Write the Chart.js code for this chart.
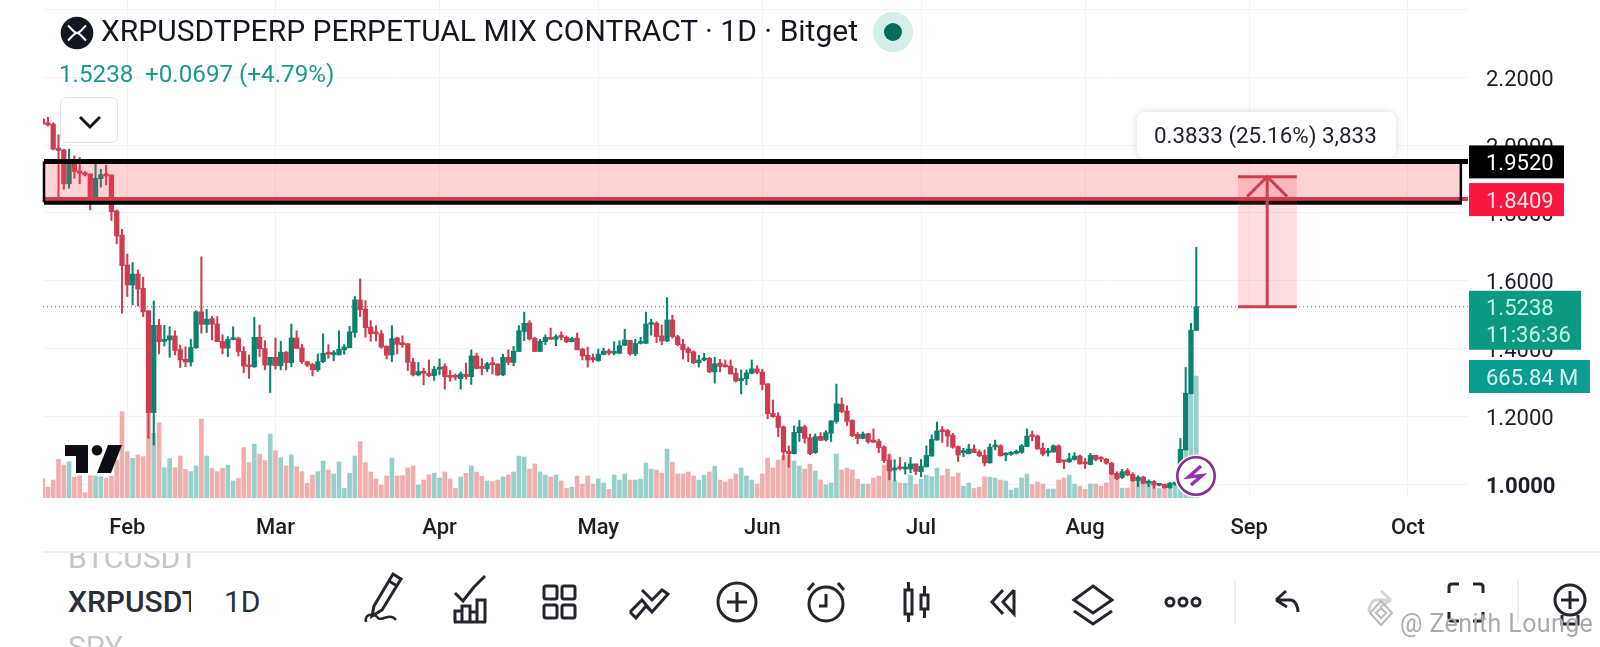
<!DOCTYPE html>
<html>
<head>
<meta charset="utf-8">
<title>XRPUSDTPERP</title>
<script src="https://cdn.jsdelivr.net/npm/chart.js@4/dist/chart.umd.min.js"></script>
<style>
  html, body { margin: 0; padding: 0; background: #fff; width: 1600px; height: 647px; overflow: hidden; font-family: Roboto, sans-serif; }
  #chart { position: absolute; left: 0; top: 0; }
  .abs { position: absolute; white-space: nowrap; }
  #title { left: 101px; top: 13px; font-size: 30px; line-height: 36px; color: #131722; }
  .quote { top: 59px; font-size: 24.2px; line-height: 30px; color: #1a9a8c; }
  #menuBtn { left: 60px; top: 97px; width: 58px; height: 46px; border: 1px solid #e3e5e8; border-radius: 6px; background: #fff; box-sizing: border-box; }
  #axisLine { left: 43px; right: 0; top: 551px; height: 2px; background: #eeeff1; }
  .wheel { left: 68px; width: 123px; overflow: hidden; font-size: 30px; line-height: 34px; height: 34px; }
  #toolbar { left: 0; top: 0; }
</style>
</head>
<body>
<canvas id="chart" width="1600" height="552"></canvas>

<svg class="abs" style="left:60px;top:16px" width="34" height="34" viewBox="0 0 34 34">
  <circle cx="17" cy="17" r="16.3" fill="#131722"/>
  <path d="M8 9.5 C13 14 14 17 17 17 C20 17 21 14 26 9.5 M8 24.5 C13 20 14 17 17 17 C20 17 21 20 26 24.5" stroke="#fff" stroke-width="2" fill="none"/>
</svg>
<div id="title" class="abs">XRPUSDTPERP PERPETUAL MIX CONTRACT · 1D · Bitget</div>
<svg class="abs" style="left:873px;top:12px" width="40" height="40" viewBox="0 0 40 40">
  <circle cx="20" cy="20" r="20" fill="#d3efea"/>
  <circle cx="20" cy="20" r="9" fill="#086b5b"/>
</svg>
<div class="abs quote" style="left:59px">1.5238</div>
<div class="abs quote" style="left:145px">+0.0697 (+4.79%)</div>
<div id="menuBtn" class="abs"></div>
<svg class="abs" style="left:78px;top:113px" width="24" height="18" viewBox="0 0 24 18">
  <path d="M2 4 L12 14 L22 4" stroke="#131722" stroke-width="3" fill="none"/>
</svg>

<!-- tv logo -->
<svg class="abs" style="left:65px;top:445px" width="58" height="28" viewBox="0 0 58 28">
  <path d="M0 0 H23 V28 H11 V11 H0 Z M43 0 H57 L46 28 H32 Z" fill="#0c0e13"/>
  <circle cx="32" cy="5.3" r="5.3" fill="#0c0e13"/>
</svg>

<!-- lightning badge -->
<svg class="abs" style="left:1173px;top:453px" width="46" height="46" viewBox="0 0 46 46">
  <circle cx="23" cy="23" r="21.5" fill="#fff"/>
  <circle cx="23" cy="23" r="18.7" fill="#fff" stroke="#84308f" stroke-width="2.6"/>
  <path d="M28 13 L15.5 24 L29 22.5 L18 32" stroke="#9a2fb0" stroke-width="3.4" fill="none"/>
</svg>

<div id="axisLine" class="abs"></div>

<div class="abs wheel" style="top:541px;color:#c4c6ca;clip-path:inset(12px 0 0 0)">BTCUSDT</div>
<div class="abs wheel" style="top:585px;color:#2a2e39;font-weight:500">XRPUSDT</div>
<div class="abs wheel" style="top:630px;color:#c4c6ca">SPY</div>
<div class="abs" style="left:224px;top:585px;font-size:30px;line-height:34px;color:#2a2e39">1D</div>

<svg id="toolbar" class="abs" width="1600" height="647" viewBox="0 0 1600 647" fill="none" stroke="#23262d" stroke-width="3">
  <!-- pencil -->
  <path d="M374 606 L393 574 L401 579 L382 610 L372 616 Z M389 581 L397 586"/>
  <path d="M366 622 C364 612 376 614 378 618 C381 622 390 612 396 620" stroke-width="2.5"/>
  <!-- indicators -->
  <path d="M455 593 L463 601 L474 587 M474 587 L485 576" />
  <path d="M455 622 V611 H462 V622 M462 622 V606 H470 V622 M470 622 V612 H477 V622 M477 622 V600 H485 V622 M454 622 H486"/>
  <!-- templates -->
  <rect x="544" y="586" width="13" height="13" rx="2"/><rect x="562" y="586" width="13" height="13" rx="2"/>
  <rect x="544" y="605" width="13" height="13" rx="2"/><rect x="562" y="605" width="13" height="13" rx="2"/>
  <!-- drawings fav -->
  <path d="M630 612 L642 600 L652 612 L668 594 M630 612 L636 618 L646 606 L652 612 M652 612 L668 594 L662 590 L652 600 L642 590"/>
  <!-- plus -->
  <circle cx="737" cy="602" r="19"/><path d="M737 592 V612 M727 602 H747"/>
  <!-- alarm -->
  <circle cx="826" cy="604" r="17"/><path d="M826 594 V606 H819 M808 590 L814 583 M844 590 L838 583"/>
  <!-- candles -->
  <rect x="905" y="590" width="7" height="24"/><path d="M908.5 582 V590 M908.5 614 V622"/>
  <rect x="921" y="595" width="7" height="14"/><path d="M924.5 586 V595 M924.5 609 V618"/>
  <!-- replay -->
  <path d="M1003 590 L992 602 L1003 614 M1014 590 L1003 602 L1014 614 V590"/>
  <!-- layers -->
  <path d="M1093 586 L1112 600 L1093 613 L1074 600 Z M1074 611 L1093 624 L1112 611"/>
  <!-- more -->
  <circle cx="1170" cy="602" r="4"/><circle cx="1183" cy="602" r="4"/><circle cx="1196" cy="602" r="4"/>
  <path d="M1235 580 V623 M1518 580 V623" stroke="#e8e9eb" stroke-width="1.5"/>
  <!-- undo -->
  <path d="M1276 600 L1286 591 M1276 600 L1287 607 M1276 600 H1290 C1296 600 1298 608 1298 612"/>
  <!-- redo -->
  <path d="M1391 600 L1381 591 M1391 600 L1380 607 M1391 600 H1377 C1371 600 1369 608 1369 612" stroke="#d4d5d8"/>
  <!-- fullscreen -->
  <path d="M1449 593 V587 Q1449 584 1452 584 H1459 M1473 584 H1480 Q1483 584 1483 587 V593 M1483 612 V618 Q1483 621 1480 621 H1473 M1459 621 H1452 Q1449 621 1449 618 V612"/>
  <!-- zoom plus -->
  <circle cx="1570" cy="600" r="15"/><path d="M1570 591 V609 M1561 600 H1579 M1562 615 V624 H1578 V615"/>
  <!-- watermark logo -->
  <path d="M1381 601 L1392 613 L1381 625 L1370 613 Z M1381 608 L1386 613 L1381 618 L1376 613 Z" stroke="#b9bbbf" stroke-width="2"/>
</svg>
<div class="abs" style="left:1400px;top:609px;font-size:25px;line-height:30px;color:#a9abb0;letter-spacing:.4px">@ Zenith Lounge</div>

<script>
// candles, Jan 16 to Aug 22, one per day
var opens = [2.076,2.066,2.062,1.991,1.986,1.886,1.946,1.924,1.919,1.915,1.833,1.901,1.915,1.912,1.806,1.735,1.647,1.588,1.620,1.578,1.512,1.212,1.469,1.422,1.426,1.438,1.398,1.369,1.361,1.403,1.509,1.472,1.489,1.473,1.422,1.402,1.427,1.430,1.392,1.352,1.347,1.434,1.401,1.352,1.375,1.350,1.390,1.359,1.432,1.403,1.362,1.354,1.338,
  1.362,1.388,1.383,1.382,1.397,1.403,1.448,1.544,1.517,1.464,1.447,1.444,1.408,1.382,1.432,1.415,1.415,1.361,1.323,1.334,1.328,1.321,1.340,1.348,1.320,1.318,1.312,1.325,1.318,1.379,1.344,1.341,1.356,1.355,1.323,1.375,1.360,1.392,1.451,1.476,1.431,1.392,1.421,1.432,1.428,1.438,1.434,1.421,1.431,1.399,1.381,1.370,1.365,1.383,1.394,1.387,1.387,
  1.410,1.425,1.385,1.416,1.416,1.472,1.475,1.438,1.423,1.485,1.436,1.413,1.400,1.391,1.359,1.367,1.372,1.332,1.358,1.350,1.349,1.328,1.306,1.312,1.328,1.341,1.331,1.297,1.210,1.202,1.170,1.098,1.091,1.153,1.170,1.138,1.094,1.142,1.132,1.151,1.186,1.237,1.217,1.189,1.148,1.136,1.150,1.128,1.128,1.111,1.072,1.043,1.049,1.046,1.046,1.061,
  1.038,1.053,1.084,1.131,1.158,1.159,1.146,1.112,1.094,1.091,1.105,1.096,1.086,1.064,1.111,1.114,1.087,1.089,1.092,1.095,1.112,1.143,1.143,1.107,1.094,1.096,1.114,1.068,1.067,1.074,1.084,1.063,1.059,1.086,1.077,1.075,1.063,1.033,1.021,1.041,1.030,1.012,1.022,1.004,1.009,0.998,1.001,0.991,1.001,1.004,1.102,1.267,1.4541];
var highs = [2.079,2.082,2.066,2.030,1.988,1.988,1.968,1.964,1.922,1.915,1.946,1.929,1.941,1.912,1.809,1.752,1.679,1.654,1.632,1.611,1.512,1.541,1.487,1.469,1.465,1.453,1.411,1.406,1.428,1.512,1.671,1.516,1.495,1.495,1.441,1.436,1.465,1.434,1.406,1.382,1.493,1.470,1.424,1.375,1.432,1.422,1.392,1.473,1.453,1.413,1.362,1.357,1.385,
  1.444,1.412,1.395,1.453,1.412,1.466,1.554,1.606,1.542,1.483,1.468,1.454,1.408,1.468,1.434,1.438,1.415,1.372,1.360,1.343,1.367,1.348,1.370,1.356,1.336,1.326,1.332,1.358,1.397,1.387,1.371,1.360,1.375,1.356,1.384,1.397,1.407,1.468,1.508,1.483,1.434,1.428,1.441,1.461,1.441,1.450,1.438,1.434,1.446,1.402,1.405,1.385,1.399,1.402,1.399,1.421,1.424,
  1.458,1.425,1.428,1.434,1.508,1.487,1.480,1.470,1.551,1.499,1.440,1.428,1.405,1.394,1.381,1.387,1.375,1.375,1.369,1.367,1.367,1.343,1.338,1.338,1.367,1.350,1.340,1.297,1.249,1.212,1.173,1.114,1.173,1.189,1.175,1.149,1.149,1.153,1.159,1.188,1.296,1.255,1.232,1.191,1.153,1.155,1.151,1.164,1.134,1.114,1.090,1.073,1.080,1.065,1.080,1.061,
  1.074,1.114,1.146,1.184,1.171,1.163,1.151,1.114,1.107,1.119,1.117,1.102,1.102,1.120,1.131,1.118,1.094,1.097,1.102,1.118,1.164,1.158,1.146,1.122,1.107,1.117,1.117,1.068,1.092,1.094,1.087,1.077,1.092,1.087,1.082,1.077,1.066,1.038,1.045,1.047,1.035,1.026,1.025,1.014,1.012,1.004,1.002,1.007,1.007,1.136,1.345,1.475,1.699];
var lows = [2.062,2.056,1.986,1.848,1.870,1.873,1.902,1.886,1.909,1.809,1.833,1.876,1.883,1.778,1.709,1.505,1.554,1.529,1.526,1.495,1.136,1.117,1.385,1.408,1.375,1.382,1.345,1.347,1.349,1.401,1.446,1.448,1.426,1.421,1.385,1.377,1.426,1.379,1.330,1.313,1.345,1.377,1.338,1.271,1.340,1.338,1.338,1.347,1.401,1.357,1.347,1.320,1.333,
  1.359,1.372,1.365,1.382,1.384,1.403,1.434,1.495,1.434,1.422,1.423,1.402,1.370,1.362,1.385,1.404,1.336,1.320,1.320,1.294,1.318,1.307,1.323,1.281,1.304,1.308,1.281,1.311,1.295,1.340,1.323,1.333,1.326,1.321,1.321,1.353,1.350,1.392,1.424,1.426,1.392,1.392,1.412,1.428,1.409,1.426,1.418,1.420,1.397,1.367,1.346,1.361,1.363,1.382,1.382,1.382,1.385,
  1.410,1.381,1.380,1.414,1.416,1.440,1.418,1.412,1.421,1.431,1.409,1.370,1.362,1.356,1.346,1.364,1.330,1.299,1.332,1.346,1.325,1.302,1.267,1.294,1.326,1.326,1.279,1.194,1.198,1.141,1.073,1.051,1.090,1.127,1.122,1.088,1.092,1.130,1.128,1.127,1.181,1.212,1.174,1.141,1.120,1.135,1.122,1.124,1.094,1.065,1.014,1.011,1.043,1.031,1.035,1.029,
  1.023,1.051,1.084,1.131,1.124,1.112,1.107,1.068,1.082,1.090,1.094,1.082,1.055,1.063,1.102,1.084,1.070,1.086,1.090,1.092,1.112,1.129,1.104,1.085,1.084,1.095,1.065,1.047,1.065,1.072,1.060,1.047,1.058,1.070,1.068,1.060,1.029,1.014,1.018,1.026,1.009,0.994,1.002,0.994,0.989,0.996,0.989,0.989,0.998,0.998,1.102,1.267,1.454];
var closes = [2.062,2.059,1.988,1.984,1.886,1.946,1.922,1.917,1.912,1.833,1.902,1.913,1.909,1.804,1.732,1.645,1.588,1.620,1.576,1.509,1.212,1.469,1.421,1.428,1.438,1.395,1.367,1.361,1.404,1.509,1.472,1.487,1.472,1.421,1.402,1.428,1.430,1.392,1.349,1.347,1.434,1.400,1.352,1.375,1.350,1.390,1.359,1.432,1.401,1.362,1.352,1.338,1.362,
  1.387,1.384,1.385,1.399,1.405,1.450,1.544,1.515,1.462,1.444,1.444,1.405,1.381,1.430,1.413,1.412,1.360,1.323,1.333,1.328,1.321,1.340,1.346,1.318,1.316,1.316,1.326,1.318,1.379,1.342,1.342,1.356,1.353,1.323,1.375,1.360,1.393,1.453,1.475,1.429,1.392,1.422,1.434,1.428,1.436,1.434,1.421,1.430,1.397,1.379,1.367,1.368,1.384,1.393,1.387,1.389,1.409,
  1.426,1.385,1.416,1.420,1.473,1.475,1.436,1.423,1.485,1.436,1.412,1.397,1.389,1.359,1.367,1.372,1.332,1.356,1.348,1.347,1.326,1.305,1.313,1.329,1.341,1.330,1.295,1.209,1.200,1.168,1.096,1.091,1.154,1.170,1.136,1.091,1.141,1.130,1.153,1.188,1.238,1.215,1.186,1.144,1.136,1.149,1.126,1.125,1.109,1.071,1.040,1.049,1.047,1.049,1.061,1.039,
  1.054,1.086,1.133,1.158,1.156,1.143,1.110,1.087,1.098,1.105,1.094,1.085,1.064,1.110,1.113,1.085,1.090,1.093,1.098,1.114,1.143,1.141,1.105,1.090,1.098,1.114,1.065,1.067,1.076,1.084,1.061,1.061,1.086,1.074,1.075,1.063,1.031,1.018,1.038,1.028,1.012,1.022,1.004,1.010,0.999,1.001,0.991,1.004,1.004,1.104,1.269,1.455,1.5238];
// volume in millions
var volumes = [104,60,98,211,180,198,113,122,29,122,120,116,107,120,207,471,253,216,235,226,462,353,411,165,216,165,229,156,144,175,431,229,162,144,162,180,93,107,275,193,294,240,204,349,258,220,175,235,171,144,80,125,144,
  202,153,131,197,53,135,229,308,193,142,104,71,120,218,120,122,164,175,71,98,127,136,109,142,104,53,115,135,175,142,118,93,89,98,115,126,142,229,224,158,186,142,126,115,126,93,53,60,120,76,120,76,104,82,47,126,98,
  131,98,98,103,191,158,153,136,267,196,131,131,142,120,98,125,142,174,98,87,103,131,164,120,98,76,131,218,164,207,229,233,202,174,158,185,147,98,71,82,240,153,164,153,103,76,76,109,120,180,235,93,82,80,125,74,
  103,125,116,164,122,158,116,136,65,82,52,60,116,114,109,98,93,43,54,109,131,74,87,76,49,49,98,109,125,76,65,47,76,76,65,82,131,109,54,54,98,109,89,82,70,52,58,62,80,116,300,562,666];

var monthTicks  = [16,44,75,105,136,166,197,228,258];
var monthLabels = ['Feb','Mar','Apr','May','Jun','Jul','Aug','Sep','Oct'];
var priceTicks  = [1,1.2,1.4,1.6,1.8,2,2.2,2.4];

var lastPrice  = 1.5238;
var zoneTop    = 1.9520;
var zoneLine   = 1.8409;
var zoneBottom = 1.8314;
var zoneEnd    = 268;
var measureTo  = 1.9071;
var measureX   = [225.9, 231.4, 237];
var measureTxt = '0.3833 (25.16%) 3,833';
var lastVolume = '665.84 M';
var countdown  = '11:36:36';

var UP = '#0a8270', DOWN = '#cf3b50', UP_VOL = '#97cfca', DOWN_VOL = '#efafae';

var bodies = [], wicks = [], vols = [], bodyColors = [], volColors = [];
opens.forEach(function(o, i) {
  var up = closes[i] >= o;
  bodies.push({x: i, y: [o, closes[i]]});
  wicks.push({x: i, y: [lows[i], highs[i]]});
  vols.push({x: i, y: volumes[i]});
  bodyColors.push(up ? UP : DOWN);
  volColors.push(up ? UP_VOL : DOWN_VOL);
});

function tag(ctx, x, y, w, h, color) {
  ctx.fillStyle = color;
  ctx.fillRect(x, y, w, h);
}

var drawings = {
  id: 'drawings',
  afterDatasetsDraw: function(chart) {
    var ctx = chart.ctx, xs = chart.scales.x, ys = chart.scales.y, area = chart.chartArea;
    var left = area.left + 1, zoneRight = xs.getPixelForValue(zoneEnd);
    var top = ys.getPixelForValue(zoneTop), line = ys.getPixelForValue(zoneLine), bottom = ys.getPixelForValue(zoneBottom);
    var last = ys.getPixelForValue(lastPrice), target = ys.getPixelForValue(measureTo);

    ctx.save();
    // last price dotted line
    ctx.strokeStyle = '#0a8270';
    ctx.lineWidth = 1;
    ctx.setLineDash([1, 3]);
    ctx.beginPath(); ctx.moveTo(area.left, last); ctx.lineTo(area.right, last); ctx.stroke();
    ctx.setLineDash([]);

    // pink zone
    ctx.fillStyle = 'rgba(255,60,75,0.23)';
    ctx.fillRect(left, top, zoneRight - left, bottom - top);
    ctx.strokeStyle = '#cd3e50';
    ctx.lineWidth = 4;
    ctx.beginPath(); ctx.moveTo(left, line); ctx.lineTo(area.right, line); ctx.stroke();
    ctx.strokeStyle = '#000';
    ctx.lineWidth = 5;
    ctx.beginPath(); ctx.moveTo(left, top); ctx.lineTo(area.right, top); ctx.stroke();
    ctx.lineWidth = 4;
    ctx.beginPath(); ctx.moveTo(left, bottom + 0.5); ctx.lineTo(zoneRight + 1, bottom + 0.5); ctx.stroke();
    ctx.lineWidth = 2.5;
    ctx.beginPath(); ctx.moveTo(left, top); ctx.lineTo(left, bottom); ctx.stroke();
    ctx.beginPath(); ctx.moveTo(zoneRight, top); ctx.lineTo(zoneRight, bottom); ctx.stroke();

    // measure tool
    var mx0 = xs.getPixelForValue(measureX[0]), mx = xs.getPixelForValue(measureX[1]), mx1 = xs.getPixelForValue(measureX[2]);
    ctx.fillStyle = 'rgba(242,54,69,0.17)';
    ctx.fillRect(mx0, target, mx1 - mx0, last - target);
    ctx.strokeStyle = '#c9404f';
    ctx.lineWidth = 3;
    ctx.beginPath();
    ctx.moveTo(mx0, target); ctx.lineTo(mx1, target);
    ctx.moveTo(mx0, last); ctx.lineTo(mx1, last);
    ctx.moveTo(mx, last); ctx.lineTo(mx, target);
    ctx.moveTo(mx - 20, target + 20); ctx.lineTo(mx, target); ctx.lineTo(mx + 20, target + 20);
    ctx.stroke();

    // bubble
    ctx.save();
    ctx.shadowColor = 'rgba(0,0,0,0.14)';
    ctx.shadowBlur = 8;
    ctx.fillStyle = '#fff';
    ctx.beginPath();
    ctx.roundRect(1137, 112, 259, 46, 8);
    ctx.fill();
    ctx.restore();
    ctx.fillStyle = '#1f222b';
    ctx.font = '22.4px Roboto';
    ctx.textBaseline = 'middle';
    ctx.textAlign = 'left';
    ctx.fillText(measureTxt, 1154, 137);

    // price tags
    var tx = area.right + 18;
    ctx.font = '22px Roboto';
    tag(ctx, 1469, top - 16, 95, 33, '#000');
    ctx.fillStyle = '#fff';
    ctx.fillText(zoneTop.toFixed(4), tx, top + 3);
    tag(ctx, 1469, line - 16, 95, 33, '#f7163f');
    ctx.fillStyle = '#ffdfe4';
    ctx.fillText(zoneLine.toFixed(4), tx, line + 3);
    tag(ctx, 1469, last - 16, 112, 59, '#0b9a80');
    ctx.fillStyle = '#c3f5e9';
    ctx.fillText(lastPrice.toFixed(4), tx, last + 3);
    ctx.fillText(countdown, tx, last + 30);
    tag(ctx, 1469, 360, 121, 33, '#0d9d90');
    ctx.fillStyle = '#d6f5f1';
    ctx.fillText(lastVolume, tx, 379);
    ctx.restore();
  }
};

new Chart(document.getElementById('chart'), {
  data: {
    datasets: [
      {type: 'bar', data: vols, yAxisID: 'v', order: 3, grouped: false, barThickness: 4, backgroundColor: volColors},
      {type: 'bar', data: wicks, yAxisID: 'y', order: 2, grouped: false, barThickness: 1.4, backgroundColor: bodyColors},
      {type: 'bar', data: bodies, yAxisID: 'y', order: 1, grouped: false, barThickness: 4.6, minBarLength: 2, backgroundColor: bodyColors}
    ]
  },
  options: {
    responsive: false,
    animation: false,
    devicePixelRatio: 1,
    layout: {padding: {left: 43, top: 0, right: 0, bottom: 0}},
    plugins: {legend: {display: false}, tooltip: {enabled: false}},
    scales: {
      x: {
        type: 'linear',
        offset: false,
        min: 0.07,
        max: 269.35,
        afterBuildTicks: function(axis) {
          axis.ticks = monthTicks.map(function(v) { return {value: v}; });
        },
        afterFit: function(axis) {
          axis.height = 54;
          axis.paddingLeft = 0;
          axis.paddingRight = 0;
        },
        grid: {color: '#f1f3f5', offset: false, drawTicks: false},
        border: {display: false},
        ticks: {
          autoSkip: false,
          maxRotation: 0,
          padding: 17,
          color: '#1c1f27',
          font: {family: 'Roboto', size: 22, weight: '500'},
          callback: function(v) { return monthLabels[monthTicks.indexOf(v)]; }
        }
      },
      y: {
        position: 'right',
        min: 0.9605,
        max: 2.4274,
        afterBuildTicks: function(axis) {
          axis.ticks = priceTicks.map(function(v) { return {value: v}; });
        },
        afterFit: function(axis) {
          axis.width = 132;
          axis.paddingTop = 0;
          axis.paddingBottom = 0;
        },
        grid: {color: '#f1f3f5', drawTicks: false},
        border: {display: false},
        ticks: {
          padding: 18,
          labelOffset: 3,
          color: '#1c1f27',
          font: function(c) {
            return {family: 'Roboto', size: 22, weight: c.tick && c.tick.value === 1 ? '700' : '400'};
          },
          callback: function(v) { return v === 2.4 ? '' : v.toFixed(4); }
        }
      },
      v: {display: false, min: 0, max: 2719}
    }
  },
  plugins: [drawings]
});
</script>
</body>
</html>
